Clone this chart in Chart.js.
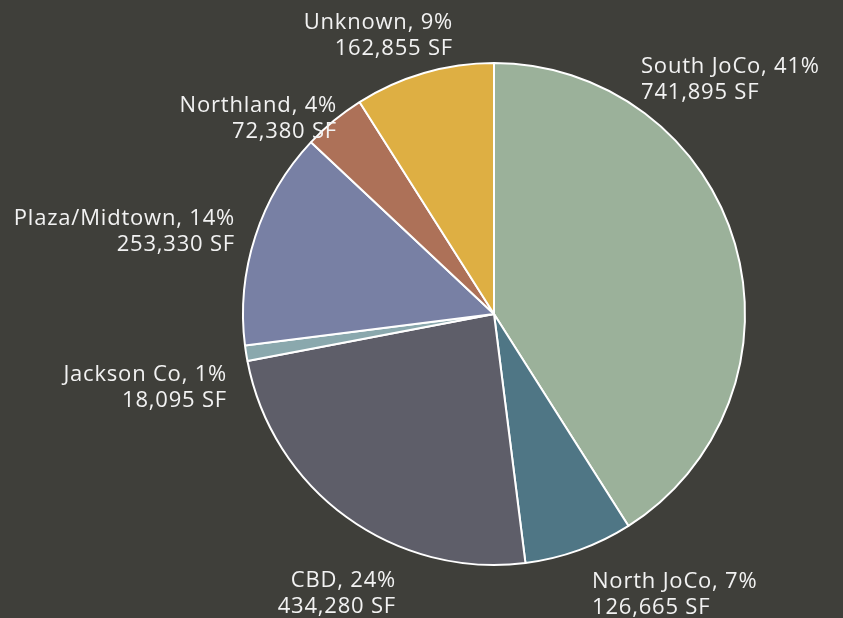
<!DOCTYPE html>
<html>
<head>
<meta charset="utf-8">
<script src="https://cdn.jsdelivr.net/npm/chart.js@4/dist/chart.umd.min.js"></script>
<style>
    html, body { margin: 0; padding: 0; background: #3f3f3a; }
    #wrap { width: 843px; height: 618px; }
</style>
</head>
<body>
<div id="wrap"><canvas id="pieChart"></canvas></div>
<script>
const regions = ['South JoCo', 'North JoCo', 'CBD', 'Jackson Co', 'Plaza/Midtown', 'Northland', 'Unknown'];
const squareFeet = [741895, 126665, 434280, 18095, 253330, 72380, 162855];
const sliceColors = ['#9bb19a', '#4f7685', '#5e5e69', '#8aa8ad', '#7880a4', '#ad7158', '#deaf43'];

// label anchors, offset from pie centre: [dx, dy of first line, align]
const labelLayout = [
    [147, -247, 'left'],
    [98, 268, 'left'],
    [-98, 267, 'right'],
    [-267, 61, 'right'],
    [-259, -95, 'right'],
    [-157, -208, 'right'],
    [-41, -291, 'right']
];

const total = squareFeet.reduce((a, b) => a + b, 0);

const sliceLabels = {
    id: 'sliceLabels',
    afterDatasetsDraw(chart) {
        const c = chart.ctx;
        const arcs = chart.getDatasetMeta(0).data;
        c.save();
        c.font = '22px "Open Sans"';
        c.letterSpacing = '0.8px';
        c.fillStyle = '#f2f2f2';
        c.textBaseline = 'middle';
        arcs.forEach((arc, i) => {
            const [dx, dy, align] = labelLayout[i];
            const pct = Math.round(squareFeet[i] / total * 100);
            c.textAlign = align;
            c.fillText(regions[i] + ', ' + pct + '%', arc.x + dx, arc.y + dy);
            c.fillText(squareFeet[i].toLocaleString('en-US') + ' SF', arc.x + dx, arc.y + dy + 26);
        });
        c.restore();
    }
};

new Chart(document.getElementById('pieChart'), {
    type: 'pie',
    data: {
        labels: regions,
        datasets: [{
            data: squareFeet,
            backgroundColor: sliceColors,
            borderColor: '#ffffff',
            borderWidth: 2
        }]
    },
    options: {
        responsive: true,
        maintainAspectRatio: false,
        animation: false,
        radius: 251,
        layout: { padding: { left: 145, right: 0, top: 10, bottom: 0 } },
        plugins: {
            legend: { display: false },
            tooltip: { enabled: false }
        }
    },
    plugins: [sliceLabels]
});
</script>
</body>
</html>
